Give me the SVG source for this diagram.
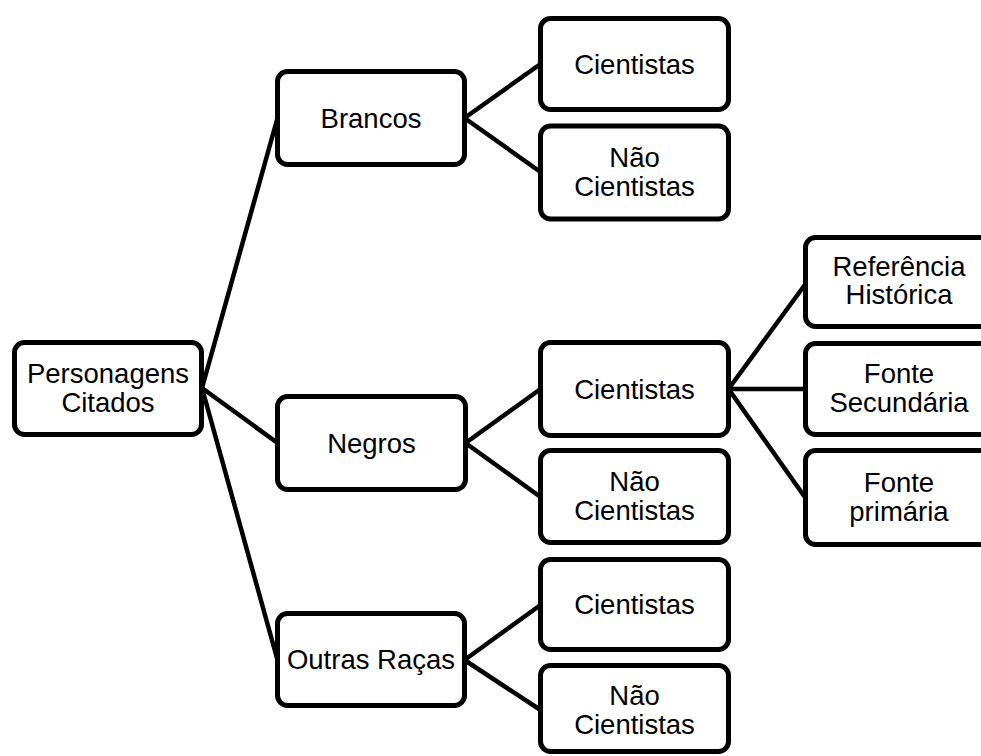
<svg xmlns="http://www.w3.org/2000/svg" width="981" height="756" viewBox="0 0 981 756">
<style>
.box{fill:#fff;stroke:#000;stroke-width:5}
.lbl{font-family:"Liberation Sans",Arial,sans-serif;font-size:27.5px;fill:#000;text-anchor:middle}
.conn line{stroke:#000;stroke-width:4.5;stroke-linecap:round}
</style>
<rect width="981" height="756" fill="#fff"/>
<g class="conn" id="connectors">
<line x1="202" y1="388" x2="277.5" y2="118"/>
<line x1="202" y1="388" x2="277.5" y2="443"/>
<line x1="202" y1="388" x2="277.5" y2="660"/>
<line x1="464.5" y1="118" x2="540.5" y2="64"/>
<line x1="464.5" y1="118" x2="540.5" y2="172"/>
<line x1="465.5" y1="443" x2="540.5" y2="389"/>
<line x1="465.5" y1="443" x2="540.5" y2="497"/>
<line x1="464.5" y1="660" x2="540.5" y2="605"/>
<line x1="464.5" y1="660" x2="540.5" y2="710"/>
<line x1="728.5" y1="389" x2="805.5" y2="284"/>
<line x1="728.5" y1="389" x2="805.5" y2="389"/>
<line x1="728.5" y1="389" x2="805.5" y2="498"/>
</g>
<g id="root">
<rect class="box" x="14.5" y="342.5" width="187" height="92" rx="10"/>
<text class="lbl" x="108" y="383">Personagens</text>
<text class="lbl" x="108" y="412">Citados</text>
</g>
<g id="brancos">
<rect class="box" x="277.5" y="71.5" width="187" height="93" rx="10"/>
<text class="lbl" x="371" y="128">Brancos</text>
</g>
<g id="negros">
<rect class="box" x="277.5" y="396.5" width="188" height="93" rx="10"/>
<text class="lbl" x="371.5" y="453">Negros</text>
</g>
<g id="outras">
<rect class="box" x="277.5" y="613.5" width="187" height="92" rx="10"/>
<text class="lbl" x="371" y="669">Outras Raças</text>
</g>
<g id="b-cientistas">
<rect class="box" x="540.5" y="18.5" width="188" height="91" rx="10"/>
<text class="lbl" x="634.5" y="73.5">Cientistas</text>
</g>
<g id="b-nao">
<rect class="box" x="540.5" y="126" width="188" height="93" rx="10"/>
<text class="lbl" x="634.5" y="167">Não</text>
<text class="lbl" x="634.5" y="195.5">Cientistas</text>
</g>
<g id="n-cientistas">
<rect class="box" x="540.5" y="342.5" width="188" height="93" rx="10"/>
<text class="lbl" x="634.5" y="398.5">Cientistas</text>
</g>
<g id="n-nao">
<rect class="box" x="540.5" y="450.5" width="188" height="92" rx="10"/>
<text class="lbl" x="634.5" y="491">Não</text>
<text class="lbl" x="634.5" y="520">Cientistas</text>
</g>
<g id="o-cientistas">
<rect class="box" x="540.5" y="559.5" width="188" height="90" rx="10"/>
<text class="lbl" x="634.5" y="614">Cientistas</text>
</g>
<g id="o-nao">
<rect class="box" x="540.5" y="665.5" width="188" height="86" rx="10"/>
<text class="lbl" x="634.5" y="705">Não</text>
<text class="lbl" x="634.5" y="734">Cientistas</text>
</g>
<g id="referencia">
<rect class="box" x="805.5" y="237.5" width="190" height="89" rx="10"/>
<text class="lbl" x="899" y="275.5">Referência</text>
<text class="lbl" x="899" y="304">Histórica</text>
</g>
<g id="secundaria">
<rect class="box" x="805.5" y="343.5" width="190" height="91" rx="10"/>
<text class="lbl" x="899" y="383">Fonte</text>
<text class="lbl" x="899" y="412">Secundária</text>
</g>
<g id="primaria">
<rect class="box" x="805.5" y="450.5" width="190" height="94" rx="10"/>
<text class="lbl" x="899" y="492">Fonte</text>
<text class="lbl" x="899" y="521">primária</text>
</g>
</svg>
